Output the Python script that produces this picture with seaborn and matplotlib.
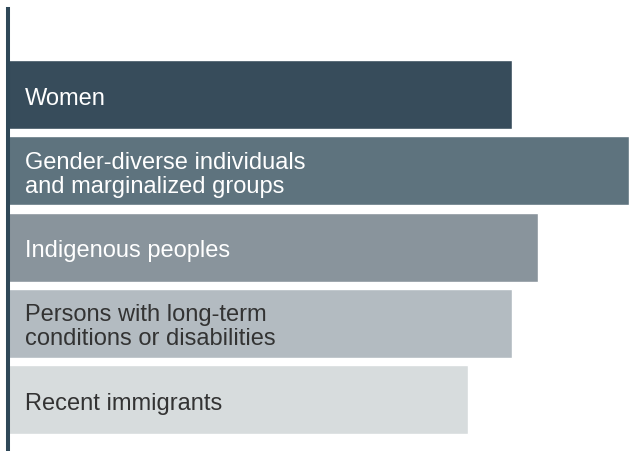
import matplotlib
matplotlib.use("Agg")
import matplotlib.pyplot as plt
import seaborn as sns
import pandas as pd

categories = [
    "Women",
    "Gender-diverse individuals\nand marginalized groups",
    "Indigenous peoples",
    "Persons with long-term\nconditions or disabilities",
    "Recent immigrants",
]
values = [81.2, 100.0, 85.3, 81.2, 74.1]

bar_colors = ["#374c5b", "#5e737e", "#89949c", "#b3bbc1", "#d7dcdd"]
text_colors = ["white", "white", "white", "#333333", "#333333"]

df = pd.DataFrame({"category": categories, "value": values})

sns.set_theme(style="white")
plt.rcParams["font.family"] = ["Liberation Sans", "DejaVu Sans"]

fig = plt.figure(figsize=(6.29, 4.52), dpi=100)
ax = fig.add_axes([8 / 629, 0, 621 / 629, 442 / 452])

sns.barplot(data=df, y="category", x="value", hue="category",
            palette=bar_colors, orient="h", width=0.905, legend=False,
            saturation=1, ax=ax)

ax.set_xlim(0, 100)
ax.set_ylim(4.672, -1.1205)

for i, (cat, tc) in enumerate(zip(categories, text_colors)):
    ax.text(2.7, i + 0.04, cat, color=tc, fontsize=17.0, va="center",
            ha="left", linespacing=1.12)

for s in ["top", "right", "bottom"]:
    ax.spines[s].set_visible(False)
ax.spines["left"].set_color("#2f4858")
ax.spines["left"].set_linewidth(2.9)
ax.set_xticks([])
ax.set_yticks([])
ax.set_xlabel("")
ax.set_ylabel("")

fig.savefig("out.png", dpi=100)
